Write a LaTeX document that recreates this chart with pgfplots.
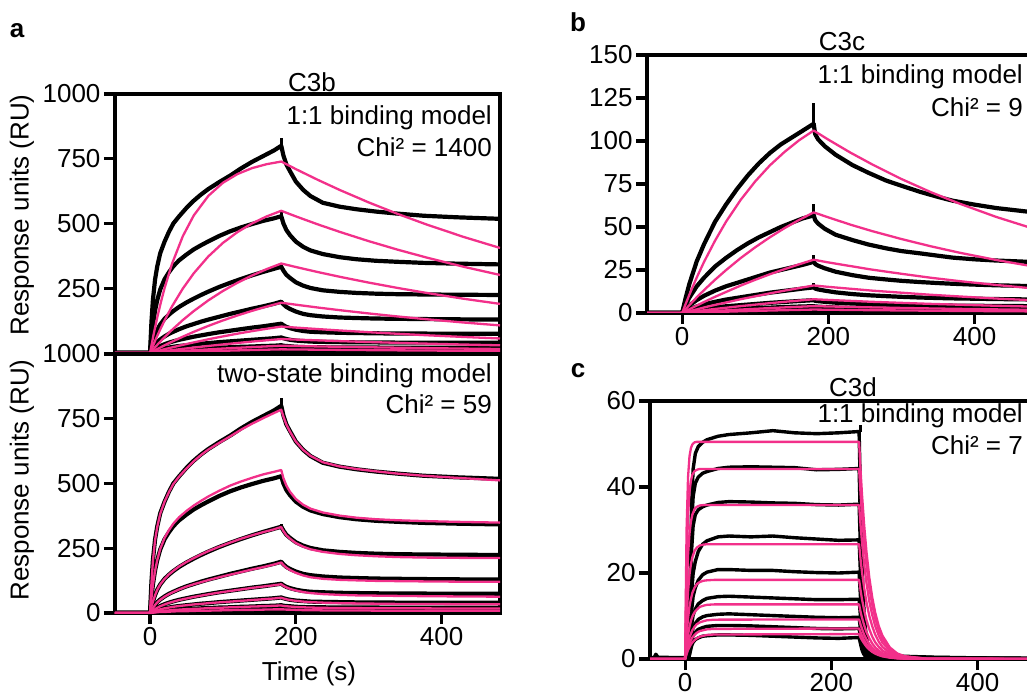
\documentclass[border=0pt]{standalone}
\usepackage{pgfplots}
\pgfplotsset{compat=1.18}
\usepackage{pgfplotstable}
\usepackage{fontspec}
\setmainfont{Liberation Sans}
\definecolor{fitpink}{RGB}{242,48,138}
\newcommand\bigf{\fontsize{26}{31}\selectfont}

% Panel a: measured data (C3b)
\pgfplotstableread{
t c1 c2 c3 c4 c5 c6 c7 c8
-48 0 0 0 0 0 0 0 0
0 0 0 0 0 0 0 0 0
2 120 60 25 10 5 2 1 1
4 205 110 45 20 10 5 2 1
7 285 165 70 32 16 8 4 2
10 335 205 90 42 21 11 5 3
14 385 245 110 52 27 14 7 4
20 430 285 132 64 34 18 9 5
26 468 312 148 74 40 21 10 5
32 500 335 162 82 45 24 12 6
40 528 358 178 92 51 27 13 7
50 560 380 195 103 57 30 15 8
60 588 400 210 112 63 33 16 8
70 612 416 224 121 68 36 18 9
80 633 431 237 129 73 38 19 10
95 660 452 255 140 80 42 21 11
110 685 470 271 151 86 45 22 11
125 713 485 286 161 92 48 24 12
140 738 498 300 171 98 51 25 13
155 760 510 313 180 103 54 27 14
170 782 520 325 190 109 57 28 14
180 800 528 333 198 113 60 30 15
183 762 500 318 188 107 57 28 14
187 728 475 302 178 101 54 27 14
192 702 455 290 170 96 51 26 13
200 662 430 273 160 90 48 24 13
210 630 410 260 151 85 46 23 12
220 606 396 251 146 82 44 22 12
237 580 382 242 141 80 43 22 11
260 565 370 236 137 78 42 21 11
283 555 362 232 135 77 41 21 11
310 546 356 229 133 76 41 21 11
340 538 352 227 132 75 40 20 11
375 530 348 226 131 75 40 20 10
420 524 345 225 130 74 40 20 10
480 518 342 224 129 74 40 20 10
}\tabA

% Panel a: 1:1 binding model fit
\pgfplotstableread{
t p1 p2 p3 p4 p5 p6 p7 p8
-48 0 0 0 0 0 0 0 0
0 0 0 0 0 0 0 0 0
5 72.3 34.1 16 7.6 3.7 1.9 1 0.5
10 137.8 66.4 31.5 15.1 7.4 3.7 1.9 0.9
15 197 96.9 46.5 22.4 11 5.6 2.8 1.4
20 250.6 125.8 61.1 29.6 14.6 7.4 3.8 1.8
30 342.9 179.1 88.8 43.5 21.5 10.9 5.6 2.7
45 451 248.7 127.1 63.1 31.5 16 8.2 4.1
60 531 307.7 161.8 81.7 40.9 20.9 10.7 5.3
80 606.6 372.8 203.2 104.6 52.9 27.2 14 6.9
100 657.2 425 239.5 125.7 64.1 33.1 17.1 8.5
120 691 466.9 271.3 145 74.6 38.7 20 10
140 713.8 500.4 299.3 162.8 84.4 44.1 22.8 11.4
160 729 527.4 323.9 179.1 93.5 49.1 25.5 12.8
180 739.2 549 345.5 194.1 102.1 53.9 28.1 14.1
200 710 527.5 332 186.5 98.1 51.8 27 13.5
230 668.7 496.7 312.6 175.6 92.4 48.8 25.4 12.8
260 629.7 467.8 294.4 165.4 87 45.9 23.9 12
300 581.3 431.8 271.8 152.7 80.3 42.4 22.1 11.1
340 536.6 398.6 250.9 140.9 74.1 39.1 20.4 10.2
380 495.4 368 231.6 130.1 68.4 36.1 18.8 9.5
430 448.2 333 209.5 117.7 61.9 32.7 17 8.6
480 405.6 301.3 189.6 106.5 56 29.6 15.4 7.7
}\tabP

% Panel a: two-state binding model fit
\pgfplotstableread{
t f1 f2 f3 f4 f5 f6 f7 f8
-48 0 0 0 0 0 0 0 0
0 0 0 0 0 0 0 0 0
2 115 58 24 10 5 2 1 1
4 200 108 44 19 10 5 2 1
7 282 163 69 31 15 8 4 2
10 333 205 90 41 20 11 5 3
14 383 247 110 51 26 14 7 4
20 430 290 132 63 33 18 9 4
26 467 320 149 73 39 21 10 5
32 498 345 163 81 44 24 12 6
40 527 370 180 91 50 27 13 7
50 558 394 197 102 56 30 15 7
60 586 415 212 111 62 33 16 8
70 610 433 226 119 67 35 17 9
80 631 450 239 127 72 38 19 9
95 657 472 256 138 79 41 20 10
110 682 492 272 148 85 44 22 11
125 708 508 287 158 91 47 23 12
140 731 522 300 168 97 50 25 12
155 752 535 312 177 102 53 26 13
170 772 545 323 187 107 56 28 14
180 785 552 332 195 111 59 29 14
183 758 520 316 185 105 56 27 14
187 728 492 300 175 99 53 26 13
192 700 468 287 166 93 50 25 13
200 662 440 270 155 87 47 23 12
210 630 418 256 145 81 44 22 11
220 607 403 246 138 77 42 21 11
237 582 388 236 132 73 40 20 10
260 566 376 228 128 70 38 19 10
283 556 368 223 126 68 37 19 10
310 547 362 219 124 67 36 18 9
340 538 358 216 123 66 35 18 9
375 530 355 214 122 65 35 18 9
420 522 352 213 121 64 34 17 9
480 512 349 212 121 63 34 17 9
}\tabF

% Panel b: measured data (C3c)
\pgfplotstableread{
t b1 b2 b3 b4 b5 b6 b7
-48 0 0 0 0 0 0 0
0 0 0 0 0 0 0 0
5 9 5 2.5 1.2 0.6 0.3 0.15
10 17 9 4.5 2.2 1.1 0.6 0.3
20 30 15.5 7.5 3.8 1.9 1 0.5
30 40 20.5 10 5 2.5 1.3 0.65
45 53 27 13 6.5 3.3 1.7 0.85
60 63 32 15.5 7.8 3.9 2.1 1
75 72 36.5 17.5 8.8 4.4 2.3 1.15
90 80 40.5 19.5 9.8 4.9 2.6 1.3
105 87 44 21.5 10.8 5.4 2.9 1.45
120 93 47 23.5 11.8 5.9 3.1 1.55
135 98 50 25 12.6 6.3 3.4 1.7
150 102 52.5 26.5 13.4 6.7 3.6 1.8
165 106 55 28 14.2 7.1 3.8 1.9
178 109.5 56.5 29.5 14.8 7.4 3.95 1.98
180 110 57 30 15 7.5 4 2
182 104 54 28.5 14.2 7.1 3.8 1.9
186 101 52 27.5 13.7 6.9 3.7 1.85
195 97 49 26 13 6.5 3.5 1.75
210 92 45.5 24 12 6 3.2 1.6
233 86 42.4 22 11 5.5 2.9 1.45
255 81.5 39.8 20.5 10.3 5.2 2.7 1.35
279 77 37.6 19.5 9.8 4.9 2.6 1.3
300 74 36 18.7 9.4 4.7 2.5 1.25
325 70.5 34.7 18 9 4.5 2.4 1.2
350 67.5 33.3 17.4 8.7 4.4 2.3 1.15
370 65.3 32.2 17 8.5 4.3 2.3 1.15
400 63 31.2 16.5 8.3 4.2 2.2 1.1
430 61 30.5 16.1 8.1 4.1 2.2 1.1
471 59 29.8 15.7 7.9 4 2.1 1.05
480 58.5 29.6 15.6 7.8 3.9 2.1 1.05
}\tabBb

% Panel b: 1:1 binding model fit
\pgfplotstableread{
t q1 q2 q3 q4 q5 q6 q7
-48 0 0 0 0 0 0 0
0 0 0 0 0 0 0 0
10 10.7 4.6 2.2 1.1 0.55 0.28 0.14
20 20.6 9.1 4.3 2.1 1.05 0.53 0.26
30 29.7 13.3 6.4 3.2 1.6 0.8 0.4
45 42 19.3 9.4 4.7 2.35 1.18 0.59
60 53 24.9 12.2 6.1 3.05 1.53 0.76
80 65.7 31.9 15.9 8 4 2 1
100 76.5 38.2 19.3 9.7 4.85 2.43 1.21
120 85.8 44 22.5 11.4 5.7 2.85 1.43
140 93.6 49.3 25.5 13 6.5 3.25 1.63
160 100.4 54.1 28.3 14.5 7.25 3.63 1.81
180 106.1 58.5 31 16 8 4 2
200 100.8 55.6 29.4 15.2 7.6 3.8 1.9
230 93.3 51.4 27.3 14.1 7.05 3.53 1.76
260 86.4 47.6 25.2 13 6.5 3.25 1.63
300 77.9 43 22.8 11.8 5.9 2.95 1.48
340 70.3 38.8 20.5 10.6 5.3 2.65 1.33
380 63.5 35 18.5 9.6 4.8 2.4 1.2
430 55.8 30.8 16.3 8.4 4.2 2.1 1.05
480 49.1 27.1 14.3 7.4 3.7 1.85 0.93
}\tabQb

% Panel c: measured data (C3d)
\pgfplotstableread{
t d1 d2 d3 d4 d5 d6 d7 d8 d9
-48 0.2 0.2 0.2 0.2 0.2 0.2 0.2 0.2 0.2
-42 0.4 0.2 0.2 0.2 0.2 0.2 0.2 0.2 0.2
-40 1.1 0.2 0.2 0.2 0.2 0.2 0.2 0.2 0.2
-37 0.4 0.2 0.2 0.2 0.2 0.2 0.2 0.2 0.2
0 0.3 0.2 0.2 0.2 0.2 0.2 0.2 0.2 0.2
5 0.3 0.2 0.2 0.2 0.2 0.2 0.2 0.2 0.2
7 18.2 15.6 12.8 8.5 6.2 4.4 3.1 2.3 1.7
9 36.4 31.2 25.6 15.6 11.4 8.0 5.7 4.3 3.1
11 44.2 37.8 31.0 19.9 14.6 10.2 7.3 5.5 3.9
14 47.8 40.9 33.6 22.7 16.6 11.6 8.3 6.2 4.5
18 49.4 42.3 34.7 25.0 18.3 12.8 9.2 6.9 4.9
24 50.4 43.2 35.4 26.7 19.6 13.6 9.8 7.3 5.3
30 51.0 43.6 35.8 27.5 20.2 14.1 10.1 7.6 5.4
45 51.8 44.3 36.4 28.4 20.8 14.5 10.4 7.8 5.6
60 52.2 44.6 36.6 28.6 20.8 14.6 10.5 7.8 5.6
90 52.6 44.7 36.5 28.4 20.6 14.4 10.3 7.7 5.5
120 53.1 44.6 36.3 28.6 20.6 14.2 10.1 7.5 5.3
150 52.6 44.5 36.2 28.2 20.3 14.0 9.9 7.3 5.1
180 52.4 44.0 35.9 27.9 20.1 13.8 9.7 7.1 4.9
210 52.6 44.1 35.8 27.6 20.0 13.8 9.6 7.0 4.8
238 52.9 44.3 36.0 27.7 20.2 13.9 9.7 7.1 5.0
240 37.0 31.0 25.2 19.4 14.1 9.7 6.8 5.0 3.5
242 22.2 18.6 15.1 11.6 8.5 5.8 4.1 3.0 2.1
244 13.2 11.1 9.0 6.9 5.1 3.5 2.4 1.8 1.25
246 7.9 6.6 5.4 4.2 3.0 2.1 1.5 1.1 0.75
249 4.0 3.3 2.7 2.1 1.5 1.0 0.73 0.53 0.38
253 1.6 1.3 1.1 0.83 0.61 0.42 0.29 0.21 0.15
260 1.16 0.97 0.79 0.61 0.44 0.31 0.21 0.16 0.11
270 1.0 0.84 0.68 0.53 0.38 0.26 0.18 0.13 0.1
285 0.79 0.66 0.54 0.42 0.30 0.21 0.15 0.11 0.08
300 0.63 0.53 0.43 0.33 0.24 0.17 0.12 0.09 0.06
340 0.42 0.35 0.29 0.22 0.16 0.11 0.08 0.06 0.04
400 0.26 0.22 0.18 0.14 0.10 0.07 0.05 0.04 0.03
480 0.16 0.13 0.11 0.08 0.06 0.04 0.03 0.02 0.02
}\tabC

% Panel c: 1:1 binding model fit
\pgfplotstableread{
t g1 g2 g3 g4 g5 g6 g7 g8 g9
-48 0 0 0 0 0 0 0 0 0
0 0 0 0 0 0 0 0 0 0
2 30.0 22.2 15.4 9.5 5.6 3.3 2.1 1.5 1.1
4 42.2 33.3 24.1 15.6 9.4 5.7 3.7 2.7 2.1
6 47.1 38.8 29.1 19.6 12.2 7.5 5.0 3.6 2.8
8 49.1 41.5 32.0 22.1 14.0 8.9 5.9 4.4 3.4
10 49.9 42.9 33.6 23.7 15.4 9.9 6.7 5.0 3.9
13 50.4 43.7 34.9 25.2 16.6 10.9 7.5 5.6 4.4
16 50.5 44.0 35.4 25.9 17.4 11.5 8.1 6.1 4.8
20 50.5 44.2 35.7 26.4 17.9 12.1 8.5 6.5 5.2
25 50.5 44.2 35.8 26.6 18.2 12.4 8.8 6.7 5.4
30 50.5 44.2 35.8 26.7 18.3 12.6 9.0 6.9 5.6
40 50.5 44.2 35.8 26.7 18.4 12.7 9.15 7.0 5.7
238 50.5 44.2 35.8 26.7 18.4 12.7 9.2 7.1 5.8
240 43.9 38.4 31.1 23.2 16.0 11.0 8.0 6.2 5.0
242 38.2 33.4 27.1 20.2 13.9 9.6 7.0 5.4 4.4
245 31.0 27.1 21.9 16.4 11.3 7.8 5.6 4.35 3.6
248 25.1 22.0 17.8 13.3 9.1 6.3 4.6 3.5 2.9
252 18.9 16.6 13.4 10.0 6.9 4.8 3.45 2.7 2.2
256 14.3 12.6 10.2 7.6 5.2 3.6 2.6 2.0 1.65
260 10.8 9.5 7.7 5.7 3.9 2.7 1.97 1.5 1.24
265 7.6 6.7 5.4 4.0 2.8 1.9 1.39 1.07 0.88
270 5.4 4.7 3.8 2.8 1.95 1.35 0.98 0.75 0.61
280 2.7 2.3 1.9 1.4 0.97 0.67 0.49 0.38 0.31
290 1.3 1.2 0.94 0.70 0.48 0.33 0.24 0.19 0.15
300 0.66 0.57 0.47 0.35 0.24 0.17 0.12 0.09 0.08
330 0.08 0.07 0.06 0.04 0.03 0.02 0.01 0.01 0.01
480 0 0 0 0 0 0 0 0 0
}\tabG

\pgfplotsset{
  spr/.style={
    scale only axis, width=385pt,
    xmin=-48, xmax=480,
    axis line style={line width=3.2pt},
    tick style={black, line width=3.2pt},
    major tick length=11pt,
    tick align=outside,
    tick pos=left,
    ticklabel style={font=\bigf},
    xtick={0,200,400}, xticklabels={0,200,400},
  },
  dat/.style={black, line width=4.2pt, line join=round},
  datc/.style={black, line width=3.4pt, line join=round},
  fit/.style={fitpink, line width=2.3pt, line join=round},
  spk/.style={black, line width=3pt},
}

\begin{document}
\begin{tikzpicture}[x=1pt,y=1pt]
\useasboundingbox (0,0) rectangle (1027,693);
\clip (0,0) rectangle (1027,693);

% ---- Panel a, top: 1:1 model
\begin{axis}[spr, at={(115pt,340pt)}, anchor=south west, height=259pt,
  ymin=0, ymax=1000, ytick={250,500,750,1000}, yticklabels={250,500,750,1000},
  xtick=\empty]
\pgfplotsinvokeforeach{1,...,8}{\addplot[dat] table[x=t,y=c#1]{\tabA};}
\addplot[spk] coordinates {(180,800) (180,832)};
\addplot[spk] coordinates {(180,528) (180,546)};
\addplot[spk] coordinates {(180,333) (180,342)};
\pgfplotsinvokeforeach{1,...,8}{\addplot[fit] table[x=t,y=p#1]{\tabP};}
\end{axis}

% ---- Panel a, bottom: two-state model
\begin{axis}[spr, at={(115pt,80pt)}, anchor=south west, height=259pt,
  ymin=0, ymax=1000, ytick={0,250,500,750,1000}, yticklabels={0,250,500,750,1000}]
\pgfplotsinvokeforeach{1,...,8}{\addplot[dat] table[x=t,y=c#1]{\tabA};}
\addplot[spk] coordinates {(180,800) (180,830)};
\addplot[spk] coordinates {(180,333) (180,342)};
\pgfplotsinvokeforeach{1,...,8}{\addplot[fit] table[x=t,y=f#1]{\tabF};}
\end{axis}

% ---- Panel b: C3c
\begin{axis}[spr, at={(647pt,380pt)}, anchor=south west, height=258pt, width=386pt,
  ymin=0, ymax=150, ytick={0,25,50,75,100,125,150}, yticklabels={0,25,50,75,100,125,150}]
\pgfplotsinvokeforeach{1,...,7}{\addplot[dat] table[x=t,y=b#1]{\tabBb};}
\addplot[spk] coordinates {(180,110) (180,122)};
\addplot[spk] coordinates {(180,57) (180,63.5)};
\addplot[spk] coordinates {(180,30) (180,34)};
\addplot[spk] coordinates {(180,15) (180,17.5)};
\pgfplotsinvokeforeach{1,...,7}{\addplot[fit] table[x=t,y=q#1]{\tabQb};}
\end{axis}

% ---- Panel c: C3d
\begin{axis}[spr, at={(650pt,34pt)}, anchor=south west, height=258pt, width=386pt,
  ymin=0, ymax=60, ytick={0,20,40,60}, yticklabels={0,20,40,60}]
\pgfplotsinvokeforeach{1,...,9}{\addplot[datc] table[x=t,y=d#1]{\tabC};}
\addplot[spk] coordinates {(239.5,52.9) (239.5,54.4)};
\pgfplotsinvokeforeach{1,...,9}{\addplot[fit] table[x=t,y=g#1]{\tabG};}
\end{axis}

% ---- Text
\node[font=\bigf\bfseries] at (17,662) {a};
\node[font=\bigf\bfseries] at (578,671) {b};
\node[font=\bigf\bfseries] at (578,322) {c};

\node[font=\bigf] at (312,611) {C3b};
\node[font=\bigf] at (842,651) {C3c};
\node[font=\bigf] at (853,306) {C3d};

\node[font=\bigf, anchor=base east, inner sep=0pt] at (492,568) {1:1 binding model};
\node[font=\bigf, anchor=base east, inner sep=0pt] at (492,536) {Chi² = 1400};
\node[font=\bigf, anchor=base east, inner sep=0pt] at (492,310) {two-state binding model};
\node[font=\bigf, anchor=base east, inner sep=0pt] at (492,279) {Chi² = 59};

\node[font=\bigf, anchor=base east, inner sep=0pt] at (1023,609) {1:1 binding model};
\node[font=\bigf, anchor=base east, inner sep=0pt] at (1023,576) {Chi² = 9};
\node[font=\bigf, anchor=base east, inner sep=0pt] at (1023,270) {1:1 binding model};
\node[font=\bigf, anchor=base east, inner sep=0pt] at (1023,238) {Chi² = 7};

\node[font=\bigf, rotate=90] at (22,478) {Response units (RU)};
\node[font=\bigf, rotate=90] at (22,213) {Response units (RU)};
\node[font=\bigf, anchor=base, inner sep=0pt] at (309,13) {Time (s)};
\end{tikzpicture}
\end{document}
